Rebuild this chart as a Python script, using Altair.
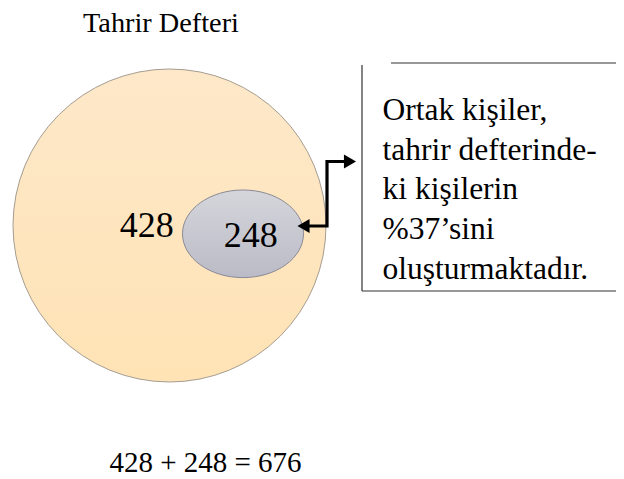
import altair as alt
import pandas as pd

# ---------------- data ----------------
title_text = "Tahrir Defteri"
count_labels = ["428", "248"]          # only in the defter / common people
equation_text = "428 + 248 = 676"
callout_lines = ["Ortak kişiler,", "tahrir defterinde-", "ki kişilerin",
                 "%37’sini", "oluşturmaktadır."]

# ---------------- layout (screen pixels) ----------------
W, H = 608, 471
X0, Y0 = 8, 8
FONT = "Liberation Serif"

xs = alt.Scale(domain=[X0, X0 + W], range=[0, W])
ys = alt.Scale(domain=[Y0, Y0 + H], range=[0, H])


def X(f):
    return alt.X(f, type="quantitative", scale=xs, axis=None)


def Y(f):
    return alt.Y(f, type="quantitative", scale=ys, axis=None)


def text_layer(df, size, align, font=FONT):
    return alt.Chart(df).mark_text(
        align=align, baseline="alphabetic", font=font, fontSize=size, color="black"
    ).encode(x=X("x"), y=Y("y"), text="t:N")


title_df = pd.DataFrame({"t": [title_text], "x": [161.0], "y": [31.6]})
eq_df = pd.DataFrame({"t": [equation_text], "x": [205.5], "y": [472.0]})
call_df = pd.DataFrame({
    "t": callout_lines,
    "x": [382.5] * len(callout_lines),
    "y": [120.2 + i * 39.6 for i in range(len(callout_lines))],
})
cnt_df = pd.DataFrame({"t": count_labels, "x": [146.7, 250.8], "y": [236.9, 246.9]})

big = {"cx": 169.5, "cy": 225.5, "r": 156.5}
inner = {"cx": 243.0, "cy": 233.8, "rx": 60.5, "ry": 43.8}

peach = {"gradient": "linear", "x1": 0, "y1": 0, "x2": 0, "y2": 1,
         "stops": [{"offset": 0, "color": "#fde8c9"},
                   {"offset": 1, "color": "#ffe3b5"}]}
grey = {"gradient": "linear", "x1": 0, "y1": 0, "x2": 0, "y2": 1,
        "stops": [{"offset": 0, "color": "#d5d5db"},
                  {"offset": 1, "color": "#bbbbc7"}]}

b = inner["ry"] / inner["rx"]
k = 0.5523
ell = (f"M-1,0C-1,{-k*b:.4f},{-k:.4f},{-b:.4f},0,{-b:.4f}"
       f"C{k:.4f},{-b:.4f},1,{-k*b:.4f},1,0"
       f"C1,{k*b:.4f},{k:.4f},{b:.4f},0,{b:.4f}"
       f"C{-k:.4f},{b:.4f},-1,{k*b:.4f},-1,0Z")

big_df = pd.DataFrame([{"x": big["cx"], "y": big["cy"]}])
big_layer = alt.Chart(big_df).mark_point(
    shape="circle", size=(2 * big["r"]) ** 2, filled=True, fill=peach,
    stroke="#a59c90", strokeWidth=1, opacity=1, fillOpacity=1, strokeOpacity=1
).encode(x=X("x"), y=Y("y"))

inner_df = pd.DataFrame([{"x": inner["cx"], "y": inner["cy"]}])
inner_layer = alt.Chart(inner_df).mark_point(
    shape=ell, size=(2 * inner["rx"]) ** 2, filled=True, fill=grey,
    stroke="#8a8a96", strokeWidth=1, opacity=1, fillOpacity=1, strokeOpacity=1
).encode(x=X("x"), y=Y("y"))

conn_df = pd.DataFrame({
    "x": [309.0, 327.0, 327.0, 344.0],
    "y": [226.0, 226.0, 161.5, 161.5],
    "o": [0, 1, 2, 3],
})
conn_layer = alt.Chart(conn_df).mark_line(
    color="black", strokeWidth=3.2, strokeJoin="miter", strokeCap="butt"
).encode(x=X("x"), y=Y("y"), order="o:Q")

headL = pd.DataFrame([{"x": 303.5, "y": 226.0}])
headR = pd.DataFrame([{"x": 350.0, "y": 161.5}])
headL_layer = alt.Chart(headL).mark_point(
    shape="triangle-left", filled=True, size=196, color="black", opacity=1
).encode(x=X("x"), y=Y("y"))
headR_layer = alt.Chart(headR).mark_point(
    shape="triangle-right", filled=True, size=196, color="black", opacity=1
).encode(x=X("x"), y=Y("y"))

box_df = pd.DataFrame([
    {"x": 362.0, "x2": 362.0, "y": 65.0, "y2": 291.0},
    {"x": 362.0, "x2": 640.0, "y": 291.0, "y2": 291.0},
    {"x": 391.0, "x2": 640.0, "y": 63.0, "y2": 63.0},
])
box_layer = alt.Chart(box_df).mark_rule(color="#333333", strokeWidth=1.2).encode(
    x=X("x"), x2=alt.X2("x2"), y=Y("y"), y2=alt.Y2("y2"))

chart = alt.layer(
    big_layer, inner_layer, conn_layer, headL_layer, headR_layer, box_layer,
    text_layer(call_df, 31.5, "left"), text_layer(cnt_df, 36, "center"),
    text_layer(title_df, 28.3, "center"), text_layer(eq_df, 29, "center")
).properties(
    width=W, height=H, padding=0, autosize=alt.AutoSizeParams(type="none"),
    background="white"
).configure_view(stroke=None)

chart.save("out.html", embed_options={"renderer": "svg", "actions": False})
